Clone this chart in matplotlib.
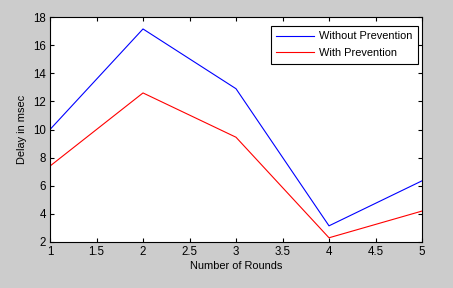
import matplotlib
matplotlib.use("Agg")
import matplotlib.pyplot as plt

rounds = [1, 2, 3, 4, 5]
without_prevention = [10.0, 17.15, 12.9, 3.15, 6.35]
with_prevention = [7.4, 12.6, 9.45, 2.3, 4.2]
xticks = [1, 1.5, 2, 2.5, 3, 3.5, 4, 4.5, 5]
xticklabels = ["1", "1.5", "2", "2.5", "3", "3.5", "4", "4.5", "5"]
yticks = [2, 4, 6, 8, 10, 12, 14, 16, 18]

plt.rcParams['font.family'] = ['Liberation Sans', 'DejaVu Sans']
fs = 7.9

fig = plt.figure(figsize=(4.53, 2.88), dpi=100, facecolor='#cccccc')
ax = fig.add_axes([50/453, 1 - 242/288, (422-50)/453, (242-17)/288])
ax.set_facecolor('white')
ax.plot(rounds, without_prevention, color='#0000ff', lw=0.8, label='Without Prevention')
ax.plot(rounds, with_prevention, color='#ff0000', lw=0.8, label='With Prevention')
ax.set_xlim(1, 5)
ax.set_ylim(2, 18)
ax.set_xticks(xticks)
ax.set_xticklabels(xticklabels)
ax.set_yticks(yticks)
ax.tick_params(direction='in', top=True, right=True, labelsize=fs + 0.4, length=3, width=0.8, pad=3)
for s in ax.spines.values():
    s.set_linewidth(0.8)
ax.set_xlabel('Number of Rounds', fontsize=fs, labelpad=2)
ax.set_ylabel('Delay in msec', fontsize=fs, labelpad=4)
leg = ax.legend(loc='upper right', fontsize=fs, fancybox=False, edgecolor='black',
                framealpha=1, handlelength=3.4, handletextpad=0.5, borderpad=0.5,
                labelspacing=0.6, borderaxespad=0.0, bbox_to_anchor=(418/453, 1 - 26/288),
                bbox_transform=fig.transFigure)
leg.get_frame().set_linewidth(0.8)
fig.savefig('out.png', dpi=100, facecolor=fig.get_facecolor())
